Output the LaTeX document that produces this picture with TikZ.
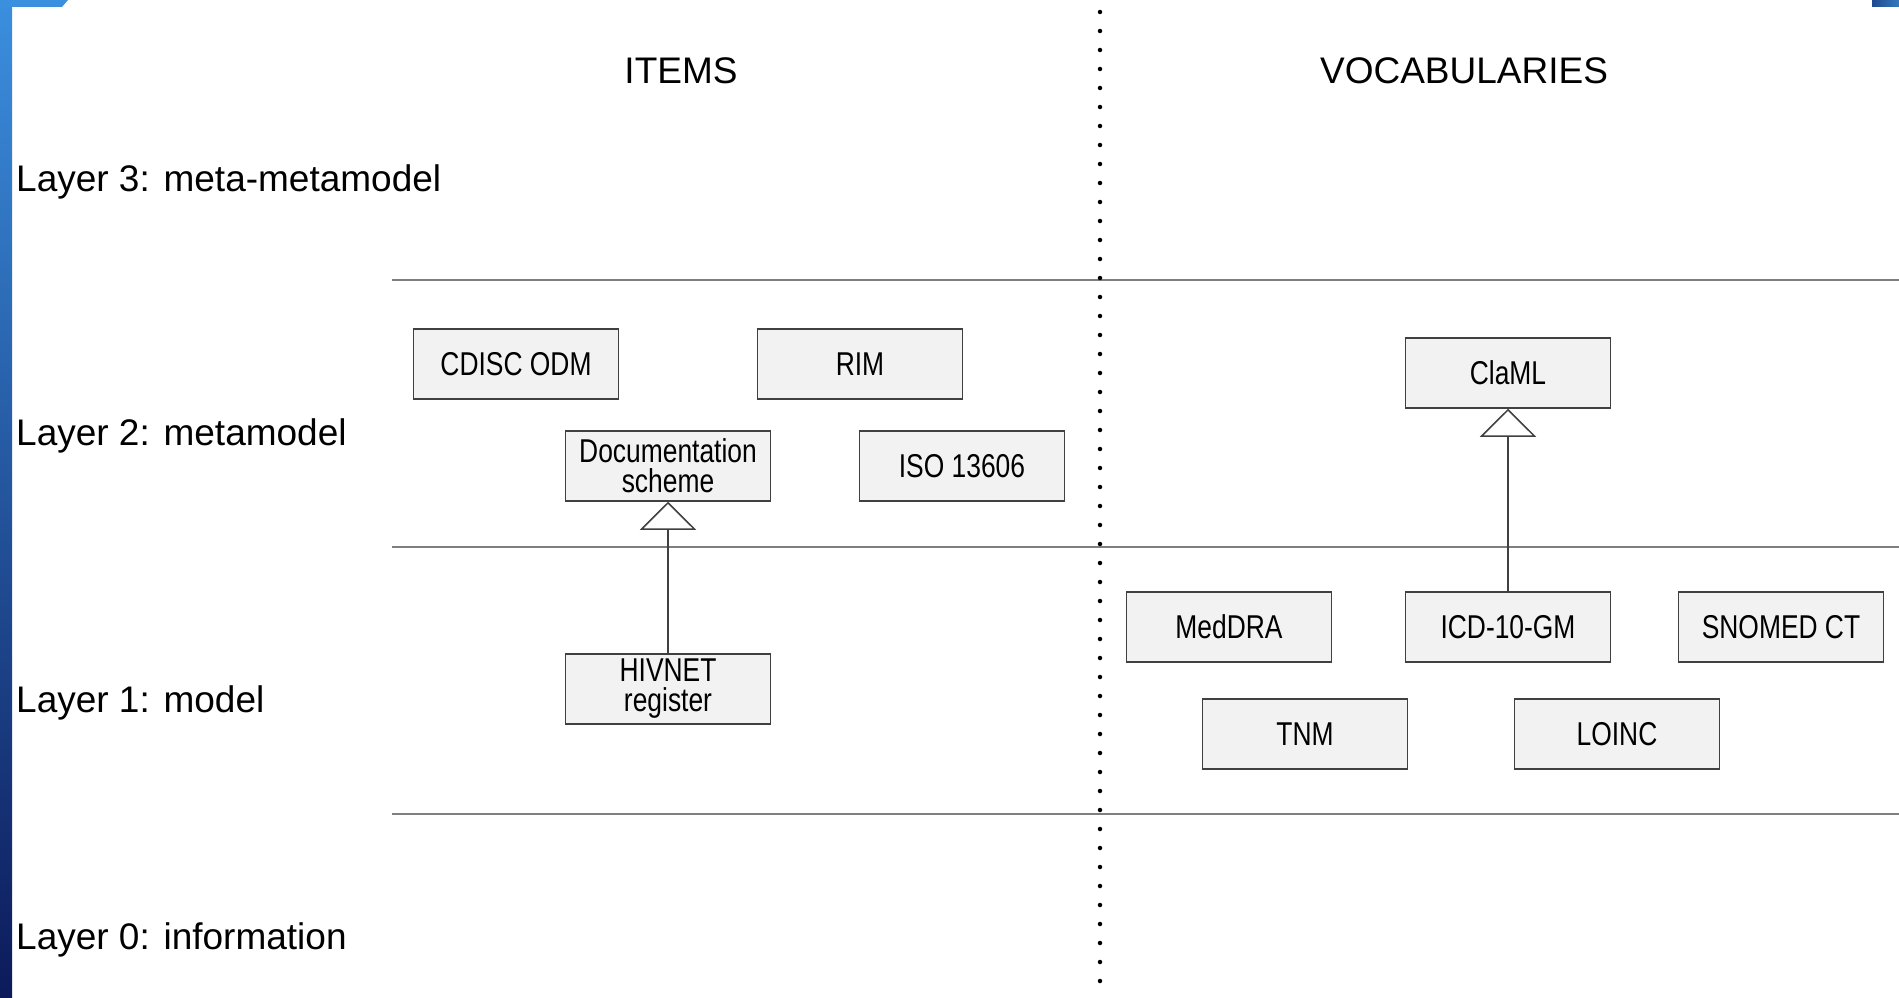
\documentclass[tikz,border=0pt]{standalone}
\usepackage{fontspec}
\setmainfont{Liberation Sans}
\newfontfamily\boxfont[FakeStretch=0.8]{Liberation Sans}
\usepackage{tikz}
\usetikzlibrary{arrows.meta}
\definecolor{barlight}{HTML}{3B8FDF}
\definecolor{bardark}{HTML}{0C1A5A}
\definecolor{boxfill}{HTML}{F2F2F2}
\definecolor{boxline}{HTML}{404040}
\definecolor{divline}{HTML}{7F7F7F}

\begin{document}
\begin{tikzpicture}[x=1pt, y=1pt, yscale=-1, xscale=1,
  box/.style={draw=boxline, line width=1.5pt, fill=boxfill, minimum width=205pt, minimum height=70pt, inner sep=2pt, align=center, font=\boxfont\fontsize{33}{30}\selectfont},
  layer/.style={anchor=base west, inner sep=0pt, font=\fontsize{37}{42}\selectfont},
  colhead/.style={anchor=base, inner sep=0pt, font=\fontsize{37}{42}\selectfont},
  divider/.style={draw=divline, line width=1.5pt},
  gen/.style={draw=boxline, line width=1.5pt, -{Triangle[open, length=28pt, width=56pt, line width=1.5pt]}}]
\useasboundingbox (0, 0) rectangle (1899, 998);
\fill[white] (0, 0) rectangle (1899, 998);
%Frame
\shade[top color=barlight, bottom color=bardark] (0, 0) rectangle (12, 998);
\fill[barlight] (0, 0) -- (68, 0) -- (62, 7) -- (0, 7) -- cycle;
\shade[left color=bardark!60!barlight, right color=barlight!85!black] (1872, 0) rectangle (1899, 7);
%Layers
\draw[divider] (392, 280) -- (1899, 280);
\draw[divider] (392, 547) -- (1899, 547);
\draw[divider] (392, 814) -- (1899, 814);
\coordinate (septop) at (1100, 12);
\coordinate (sepbot) at (1100, 998);
\draw[line width=4.5pt, line cap=round, dash pattern=on 0pt off 19pt] (septop) -- (sepbot);
%Text
\node[colhead] (items) at (681, 84) {ITEMS};
\node[colhead] (vocab) at (1464, 84) {VOCABULARIES};
\node[layer] (l3) at (16, 191) {Layer 3: meta-metamodel};
\node[layer] (l2) at (16, 445) {Layer 2: metamodel};
\node[layer] (l1) at (16, 712) {Layer 1: model};
\node[layer] (l0) at (16, 949) {Layer 0: information};
%Boxes
\node[box] (cdisc) at (516, 364) {CDISC ODM};
\node[box] (rim) at (860, 364) {RIM};
\node[box] (doc) at (668, 466) {Documentation\\scheme};
\node[box] (iso) at (962, 466) {ISO 13606};
\node[box] (hiv) at (668, 689) {HIVNET\\register};
\node[box] (claml) at (1508, 373) {ClaML};
\node[box] (meddra) at (1229, 627) {MedDRA};
\node[box] (icd) at (1508, 627) {ICD-10-GM};
\node[box] (snomed) at (1781, 627) {SNOMED CT};
\node[box] (tnm) at (1305, 734) {TNM};
\node[box] (loinc) at (1617, 734) {LOINC};
%Arrows
\draw[gen] (hiv) -- (doc);
\draw[gen] (icd) -- (claml);
\end{tikzpicture}
\end{document}
